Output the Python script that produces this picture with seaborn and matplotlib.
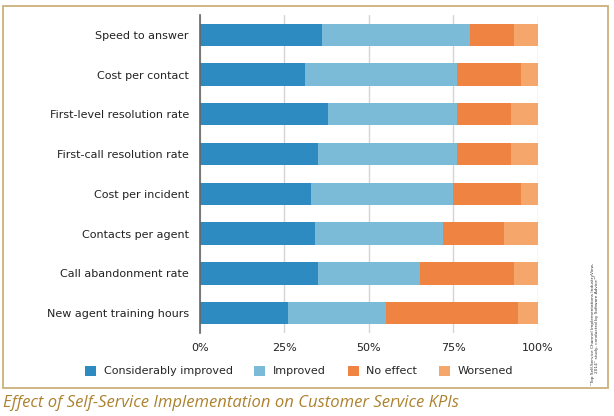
import matplotlib

matplotlib.use("Agg")
import matplotlib.pyplot as plt
import numpy as np
import pandas as pd
import seaborn as sns
from matplotlib.patches import Patch, Rectangle
from matplotlib.ticker import PercentFormatter

categories = [
    "Speed to answer",
    "Cost per contact",
    "First-level resolution rate",
    "First-call resolution rate",
    "Cost per incident",
    "Contacts per agent",
    "Call abandonment rate",
    "New agent training hours",
]
series_names = ["Considerably improved", "Improved", "No effect", "Worsened"]
considerably_improved = [36, 31, 38, 35, 33, 34, 35, 26]
improved = [44, 45, 38, 41, 42, 38, 30, 29]
no_effect = [13, 19, 16, 16, 20, 18, 28, 39]
worsened = [7, 5, 8, 8, 5, 10, 7, 6]
x_ticks = [0, 25, 50, 75, 100]

COLORS = ["#2e8bc2", "#7bbbd8", "#ef8442", "#f4a66b"]
TITLE_COLOR = "#ac822f"
FRAME_COLOR = "#cdb07a"

sns.set_theme(style="white")
plt.rcParams["font.family"] = ["DejaVu Sans"]

df = pd.DataFrame(
    {
        "kpi": categories,
        series_names[0]: considerably_improved,
        series_names[1]: improved,
        series_names[2]: no_effect,
        series_names[3]: worsened,
    }
)
cum = df[series_names].cumsum(axis=1)

fig = plt.figure(figsize=(6.14, 4.16), dpi=100)
ax = fig.add_axes([0.3257, 0.1995, 0.876 - 0.3257, 0.964 - 0.1995])

# stacked bars: draw cumulative totals from the outermost segment inwards
for name, color in reversed(list(zip(series_names, COLORS))):
    sns.barplot(
        x=cum[name],
        y=df["kpi"],
        orient="h",
        color=color,
        width=0.56,
        linewidth=0,
        saturation=1,
        ax=ax,
        zorder=3,
    )

ax.set_xlim(0, 100)
ax.set_ylim(len(categories) - 0.5, -0.5)
ax.set_xticks(x_ticks)
ax.xaxis.set_major_formatter(PercentFormatter(decimals=0))
ax.grid(axis="x", color="#d4d4d4", linewidth=1, zorder=0)
ax.set_xlabel("")
ax.set_ylabel("")
ax.tick_params(axis="both", length=0, labelsize=8, colors="#222222")
ax.tick_params(axis="x", pad=7)
ax.tick_params(axis="y", pad=8)
for side in ("top", "right", "bottom"):
    ax.spines[side].set_visible(False)
ax.spines["left"].set_color("#666666")
ax.spines["left"].set_linewidth(1.2)
ax.spines["left"].set_zorder(4)

handles = [Patch(facecolor=c, edgecolor="none", label=n) for n, c in zip(series_names, COLORS)]
fig.legend(
    handles=handles,
    loc="center",
    bbox_to_anchor=(0.487, 1 - 371 / 416),
    ncol=4,
    frameon=False,
    fontsize=8,
    handlelength=1.0,
    handleheight=1.0,
    handletextpad=0.7,
    columnspacing=1.95,
)

fig.patches.append(
    Rectangle(
        (3 / 614, 1 - 388 / 416),
        605 / 614,
        382 / 416,
        transform=fig.transFigure,
        fill=False,
        edgecolor=FRAME_COLOR,
        linewidth=1.3,
    )
)

fig.text(
    0.005,
    1 - 403 / 416,
    "Effect of Self-Service Implementation on Customer Service KPIs",
    family=["Open Sans", "DejaVu Sans"],
    style="italic",
    fontsize=12,
    color=TITLE_COLOR,
    va="center",
    ha="left",
)

fig.text(
    595 / 614,
    1 - 385 / 416,
    "\u201cTop Self-Service Channel Implementations IndustryView,\n"
    "2014\u201d study, conducted by Software Advice\u2122",
    rotation=90,
    fontsize=3.1,
    color="#333333",
    ha="center",
    va="bottom",
    linespacing=1.2,
)

fig.savefig("out.png", dpi=100)
